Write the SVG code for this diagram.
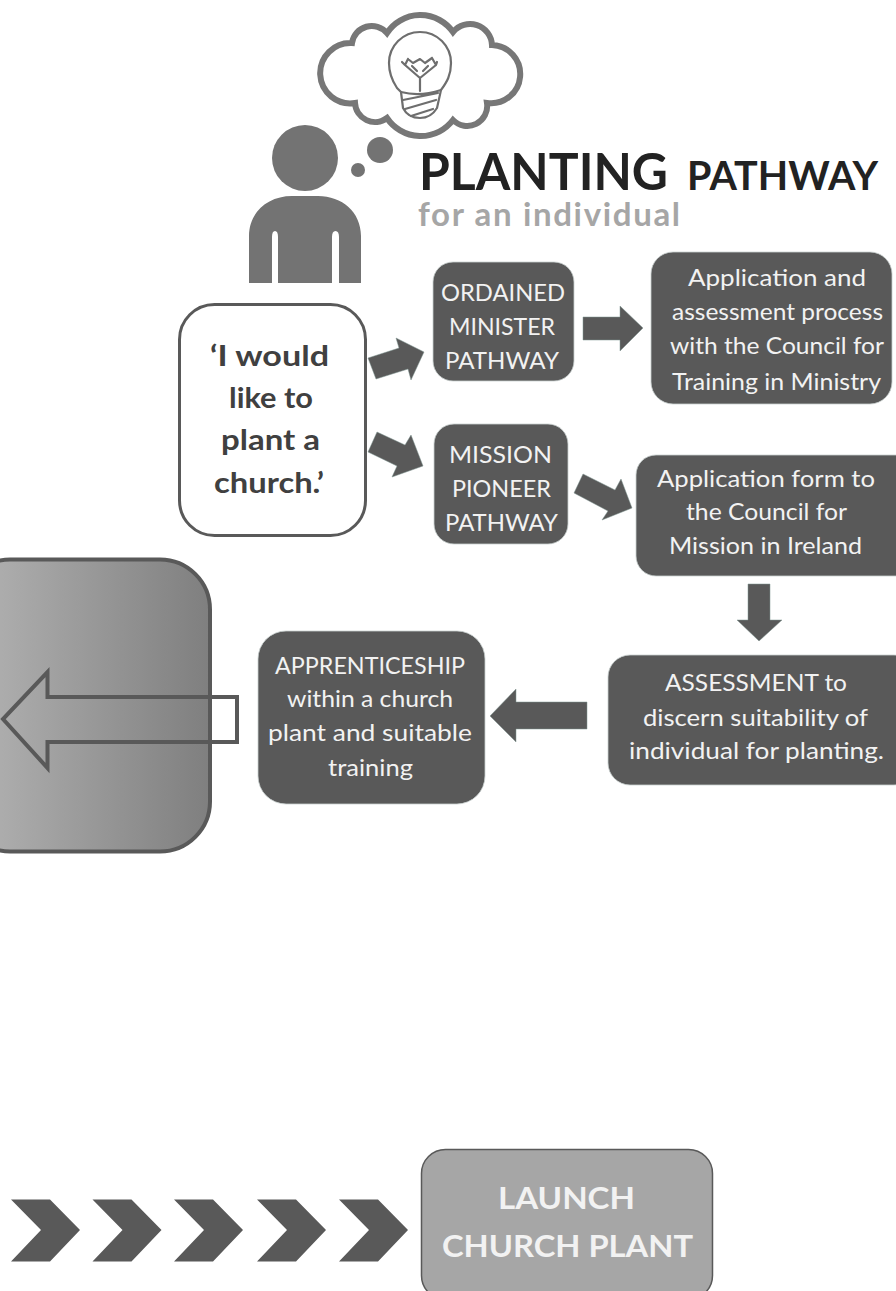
<svg xmlns="http://www.w3.org/2000/svg" width="896" height="1291" viewBox="0 0 896 1291">
<style>
text{font-family:"Lato","Liberation Sans",sans-serif}
.b{fill:#595959;stroke:#c9d1cf;stroke-width:.8}
.t{font-size:24px;fill:#f2f2f2}
.a{fill:#595959;stroke:#7f9490;stroke-width:.5}
.ic{fill:#737373}
.l{fill:none;stroke:#6e6e6e;stroke-width:2.200;stroke-linecap:round;stroke-linejoin:round}
</style>
<defs>
<linearGradient id="g" x1="0" x2="1" y1="0" y2="0"><stop offset="0" stop-color="#b5b5b5"/><stop offset="1" stop-color="#7f7f7f"/></linearGradient>
<path id="c" d="M0 0H39L69 30.500L39 62H0L30 30.500Z" fill="#595959"/>
</defs>
<rect width="896" height="1291" fill="#fff"/>
<g id="thought">
<path d="M387 33A40 40 0 0 1 453 32A22 22 0 0 1 492 45A29.150 29.150 0 1 1 487 103A20 20 0 0 1 453 120A40.500 40.500 0 0 1 387 118A20 20 0 0 1 355 103A30.200 30.200 0 1 1 352 43A20 20 0 0 1 387 33Z" fill="#fff" stroke="#777" stroke-width="6"/>
<path class="l" d="M397 88C393 82 389 75 389 63A31 31 0 0 1 451 63C451 75 447 82 441 90L437 108Q431 118 420 118Q408 118 403 108L401 92Z"/>
<path class="l" d="M401 92Q420 97 441 90M403 100L438 93M405 109L436 100M411 116L433 109M420 91V78M420 78L405 65M420 78L436 65M405 65L402 62M436 65L437 62M408 59L413 63L420 59L425 63L432 58M408 59L405 65M432 58L436 65M412 66L417 71M428 66L423 71"/>
<circle class="ic" cx="380" cy="150" r="13"/>
<circle class="ic" cx="358" cy="170" r="7"/>
</g>
<g id="person">
<circle class="ic" cx="305" cy="158" r="33"/>
<path class="ic" d="M249 283V236C249 212 268 196 292 196H318C342 196 361 212 361 236V283H339V237Q339 231 335.500 231Q332 231 332 237V283H278V237Q278 231 275 231Q272 231 272 237V283Z"/>
</g>
<g id="title">
<text x="419" y="190" font-size="52" font-weight="700" fill="#222" textLength="249" lengthAdjust="spacingAndGlyphs">PLANTING</text>
<text x="687" y="190" font-size="40" font-weight="700" fill="#222" textLength="191" lengthAdjust="spacingAndGlyphs">PATHWAY</text>
<text x="418" y="226" font-size="33" font-weight="700" fill="#a6a6a6" textLength="262" lengthAdjust="spacing">for an individual</text>
</g>
<g id="outcome">
<rect x="-40" y="559.500" width="250" height="292" rx="50" fill="url(#g)" stroke="#595959" stroke-width="4"/>
</g>
<g id="quote">
<rect x="179.500" y="304.500" width="186" height="231" rx="35" fill="#fff" stroke="#595959" stroke-width="3"/>
<g font-size="29" font-weight="700" fill="#404040">
<text x="210" y="366" textLength="119" lengthAdjust="spacingAndGlyphs">‘I would</text>
<text x="229" y="408" textLength="84" lengthAdjust="spacingAndGlyphs">like to</text>
<text x="221" y="450" textLength="99" lengthAdjust="spacingAndGlyphs">plant a</text>
<text x="214" y="493" textLength="110" lengthAdjust="spacingAndGlyphs">church.’</text>
</g>
</g>
<g id="ordained">
<rect class="b" x="433" y="262" width="141" height="119" rx="20"/>
<text class="t" x="441" y="301" textLength="124" lengthAdjust="spacingAndGlyphs">ORDAINED</text>
<text class="t" x="449" y="335" textLength="106" lengthAdjust="spacingAndGlyphs">MINISTER</text>
<text class="t" x="445" y="369" textLength="114" lengthAdjust="spacingAndGlyphs">PATHWAY</text>
</g>
<g id="application">
<rect class="b" x="651" y="252" width="241" height="152" rx="22"/>
<text class="t" x="688" y="286" textLength="178" lengthAdjust="spacingAndGlyphs">Application and</text>
<text class="t" x="672" y="320" textLength="211" lengthAdjust="spacingAndGlyphs">assessment process</text>
<text class="t" x="670" y="354" textLength="214" lengthAdjust="spacingAndGlyphs">with the Council for</text>
<text class="t" x="672" y="390" textLength="209" lengthAdjust="spacingAndGlyphs">Training in Ministry</text>
</g>
<g id="mission">
<rect class="b" x="434" y="424" width="134" height="120" rx="20"/>
<text class="t" x="449" y="463" textLength="103" lengthAdjust="spacingAndGlyphs">MISSION</text>
<text class="t" x="452" y="497" textLength="99" lengthAdjust="spacingAndGlyphs">PIONEER</text>
<text class="t" x="445" y="531" textLength="113" lengthAdjust="spacingAndGlyphs">PATHWAY</text>
</g>
<g id="form">
<rect class="b" x="636" y="455" width="280" height="121" rx="20"/>
<text class="t" x="657" y="487" textLength="218" lengthAdjust="spacingAndGlyphs">Application form to</text>
<text class="t" x="686" y="520" textLength="161" lengthAdjust="spacingAndGlyphs">the Council for</text>
<text class="t" x="669" y="554" textLength="193" lengthAdjust="spacingAndGlyphs">Mission in Ireland</text>
</g>
<g id="assessment">
<rect class="b" x="608" y="655" width="308" height="130" rx="22"/>
<text class="t" x="665" y="691" textLength="182" lengthAdjust="spacingAndGlyphs">ASSESSMENT to</text>
<text class="t" x="643" y="726" textLength="225" lengthAdjust="spacingAndGlyphs">discern suitability of</text>
<text class="t" x="629" y="759" textLength="255" lengthAdjust="spacingAndGlyphs">individual for planting.</text>
</g>
<g id="apprenticeship">
<rect class="b" x="258" y="631" width="227" height="173" rx="28"/>
<text class="t" x="275" y="674" textLength="190" lengthAdjust="spacingAndGlyphs">APPRENTICESHIP</text>
<text class="t" x="287" y="707" textLength="166" lengthAdjust="spacingAndGlyphs">within a church</text>
<text class="t" x="268" y="741" textLength="204" lengthAdjust="spacingAndGlyphs">plant and suitable</text>
<text class="t" x="328" y="776" textLength="85" lengthAdjust="spacingAndGlyphs">training</text>
</g>
<g id="launch">
<rect x="421.500" y="1149.500" width="291" height="150" rx="24" fill="#a6a6a6" stroke="#595959" stroke-width="1.500"/>
<g font-size="31" font-weight="700" fill="#f2f2f2">
<text x="498" y="1209" textLength="137" lengthAdjust="spacingAndGlyphs">LAUNCH</text>
<text x="442" y="1257" textLength="251" lengthAdjust="spacingAndGlyphs">CHURCH PLANT</text>
</g>
</g>
<g id="connectors">
<path class="a" d="M368 358L376 379L408 369L411 380L424 352L396 338L399 348Z"/>
<path class="a" d="M583 317H620V306L643 328L620 351V340H583Z"/>
<path class="a" d="M377 432L368 452L397 466L392 477L423 466L411 435L405 445Z"/>
<path class="a" d="M583 474L574 493L608 511L602 520L632 508L621 479L615 490Z"/>
<path class="a" d="M748 584H770V620H782L759 641L737 620H748Z"/>
<path class="a" d="M587 702V729H516V742L490 716L516 689V702Z"/>
<path d="M237 697V742H47.500V768L3 719L47.500 672V697Z" fill="none" stroke="#595959" stroke-width="4"/>
<use href="#c" x="11" y="1199.500"/>
<use href="#c" x="92.500" y="1199.500"/>
<use href="#c" x="174" y="1199.500"/>
<use href="#c" x="257" y="1199.500"/>
<use href="#c" x="339" y="1199.500"/>
</g>
</svg>
